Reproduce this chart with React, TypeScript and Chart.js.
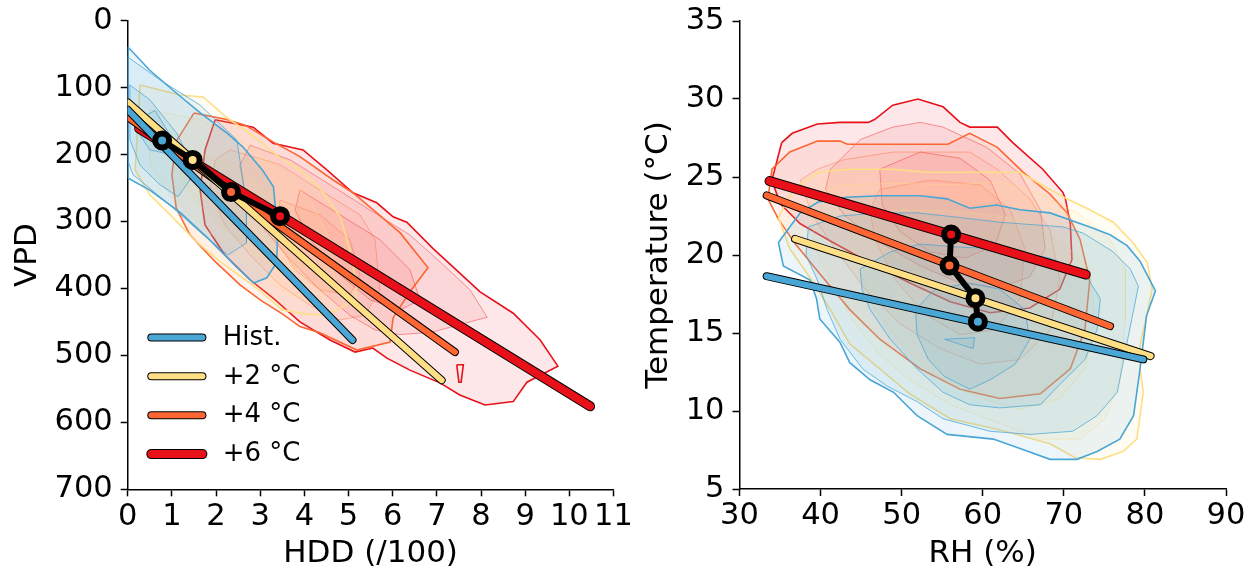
import React, { useEffect, useRef } from "react";
import { Chart, registerables } from "chart.js";

Chart.register(...registerables);

type Pt = [number, number];

const FONT = "DejaVu Sans";

// ---------- series ----------
const seriesNames = ["Hist.", "+2 °C", "+4 °C", "+6 °C"];
const seriesColors = ["#4aa6d4", "#fedf85", "#fd6532", "#e8111a"];
const seriesRGB = ["74,166,212", "254,223,133", "253,101,50", "232,17,26"];
const lineWidths = [6, 6, 6, 8];
const fillAlphaOuter = [0.11, 0.1, 0.09, 0.1];
const fillAlphaInner = [0.11, 0.09, 0.07, 0.07];
const innerLineAlpha = [0.75, 0.4, 0.4, 0.4];

// ---------- tick labels ----------
const hddTicks = [0, 1, 2, 3, 4, 5, 6, 7, 8, 9, 10, 11];
const vpdTicks = [0, 100, 200, 300, 400, 500, 600, 700];
const rhTicks = [30, 40, 50, 60, 70, 80, 90];
const tempTicks = [5, 10, 15, 20, 25, 30, 35];

// ---------- left panel: HDD vs VPD ----------
const hddLineStart: Pt[] = [[0, 133], [0, 122], [0, 144], [0.26, 161]];
const hddLineEnd: Pt[] = [[5.09, 477], [7.11, 537], [7.41, 495], [10.47, 576]];
const hddMeanX = [0.78, 1.47, 2.34, 3.45];
const vpdMeanY = [179, 208, 256, 292];

const hddHistOuter: Pt[] = [[0, 39], [0.5, 74], [1.1, 108], [1.65, 138], [2.25, 168], [2.6, 188], [3.05, 223], [3.3, 248], [3.4, 317], [3.37, 362], [3.15, 384], [2.85, 392], [2.45, 367], [1.85, 327], [1.2, 287], [0.5, 253], [0, 235]];
const hddHistMid: Pt[] = [[0, 54], [0.72, 88], [1.64, 126], [2.47, 178], [2.68, 268], [2.69, 332], [2.27, 350], [1.64, 316], [0.88, 271], [0.12, 230], [0, 208]];
const hddHistInner: Pt[] = [[0.05, 96], [0.5, 118], [1.11, 168], [1.41, 208], [1.41, 238], [1.14, 263], [0.73, 245], [0.28, 216], [0.05, 178]];
const hddHistCore: Pt[] = [[0.28, 146], [0.62, 134], [0.96, 171], [0.85, 198], [0.5, 193], [0.28, 171]];

const hddP2Outer: Pt[] = [[0.28, 96], [1.18, 111], [1.71, 114], [2.25, 145], [2.88, 174], [3.45, 205], [3.9, 223], [4.35, 250], [4.81, 293], [5.03, 342], [5.19, 395], [5.15, 417], [4.74, 432], [4.42, 440], [3.97, 438], [3.5, 432], [2.97, 402], [2.66, 387], [2.09, 360], [1.52, 328], [0.96, 290], [0.5, 260], [0.17, 223]];
const hddP2Mid: Pt[] = [[0.5, 133], [1.64, 148], [2.54, 178], [3.45, 223], [4.13, 268], [4.58, 327], [4.69, 387], [4.35, 417], [3.68, 410], [3.0, 380], [2.32, 342], [1.64, 305], [0.96, 260], [0.5, 215]];
const hddP2Inner: Pt[] = [[1.41, 193], [2.32, 215], [3.22, 260], [3.9, 313], [4.02, 365], [3.56, 380], [2.88, 350], [2.2, 313], [1.52, 268], [1.18, 230]];

const hddP4Outer: Pt[] = [[1.5, 138], [2.2, 147], [2.66, 156], [3.29, 181], [3.9, 203], [4.65, 238], [5.1, 257], [5.64, 287], [6.17, 317], [6.8, 369], [6.39, 405], [6.01, 444], [5.94, 480], [5.19, 492], [4.35, 466], [3.9, 457], [3.5, 438], [3.0, 417], [2.55, 395], [1.98, 360], [1.41, 320], [1.1, 280], [1.0, 230], [1.1, 180]];
const hddP4Mid: Pt[] = [[2.32, 193], [3.45, 215], [4.35, 253], [5.26, 290], [5.6, 327], [5.71, 402], [5.37, 440], [4.81, 447], [4.13, 425], [3.45, 395], [2.77, 350], [2.2, 305], [1.86, 253], [1.98, 208]];
const hddP4Inner: Pt[] = [[3.45, 268], [4.35, 290], [5.03, 327], [5.26, 380], [5.03, 410], [4.35, 402], [3.79, 372], [3.34, 327]];

const hddP6Outer: Pt[] = [[1.98, 148], [2.84, 159], [3.29, 183], [3.97, 193], [4.51, 223], [5.1, 257], [5.64, 272], [6.01, 293], [6.32, 301], [6.91, 340], [7.98, 405], [8.73, 437], [9.34, 477], [9.74, 516], [9.04, 540], [8.73, 569], [8.09, 574], [7.52, 559], [7.07, 541], [6.39, 522], [5.87, 504], [5.55, 489], [5.15, 495], [4.58, 477], [3.9, 450], [3.34, 417], [2.77, 387], [2.2, 350], [1.75, 305], [1.64, 253], [1.75, 193]];
const hddP6Mid: Pt[] = [[2.77, 186], [3.68, 208], [4.58, 245], [5.49, 283], [6.39, 320], [7.07, 360], [7.75, 402], [8.14, 443], [7.46, 455], [6.91, 465], [6.17, 469], [5.6, 462], [5.03, 440], [4.35, 402], [3.68, 357], [3.11, 313], [2.66, 260], [2.54, 216]];
const hddP6Inner: Pt[] = [[3.9, 253], [4.81, 290], [5.71, 327], [6.39, 372], [6.62, 417], [6.17, 432], [5.49, 417], [4.81, 380], [4.13, 327], [3.79, 283]];
const hddP6Drop: Pt[] = [[7.45, 514], [7.6, 514], [7.55, 540], [7.5, 540]];

// ---------- right panel: RH vs Temperature ----------
const rhLineStart: Pt[] = [[33.35, 18.64], [36.85, 21.03], [33.35, 23.82], [33.7, 24.74]];
const rhLineEnd: Pt[] = [[79.8, 13.31], [80.7, 13.52], [75.7, 15.44], [72.7, 18.75]];
const rhMeanX = [59.4, 59.1, 55.9, 56.1];
const tempMeanY = [15.72, 17.23, 19.33, 21.31];

const rhHistOuter: Pt[] = [[34.8, 20.8], [36.2, 21.8], [37.5, 22.7], [39.7, 23.4], [43.2, 23.7], [47.3, 23.8], [52.3, 23.8], [55.6, 23.6], [58.4, 23.0], [61.7, 23.2], [64.6, 22.9], [68.3, 22.7], [73.2, 21.8], [75.7, 21.3], [77.8, 20.6], [79.4, 19.6], [80.4, 18.6], [81.3, 17.7], [80.2, 16.1], [79.4, 12.7], [78.6, 9.7], [76.9, 8.2], [74.1, 7.4], [71.6, 6.9], [68.3, 6.9], [64.6, 7.6], [61.3, 8.2], [55.6, 8.5], [51.9, 9.7], [49.0, 11.2], [46.1, 12.0], [43.6, 13.1], [42.4, 14.4], [39.9, 15.9], [39.5, 17.2], [38.7, 18.4], [35.4, 19.3]];
const rhHistMid1: Pt[] = [[38.5, 21.8], [42.4, 22.5], [47.3, 22.7], [51.9, 22.7], [57.2, 22.4], [62.1, 22.1], [69.9, 21.8], [72.4, 21.4], [76.1, 20.2], [78.2, 19.1], [79.2, 18.0], [77.8, 14.4], [76.6, 11.2], [74.1, 9.7], [71.1, 8.7], [65.8, 8.5], [60.9, 8.7], [55.1, 9.5], [51.9, 10.6], [48.2, 11.6], [45.2, 12.7], [42.4, 14.6], [40.8, 16.5], [39.6, 18.4], [38.2, 20.0]];
const rhHistMid2: Pt[] = [[44.9, 19.1], [48.6, 20.2], [52.3, 20.7], [57.2, 20.5], [62.1, 20.4], [68.3, 19.8], [72.6, 18.8], [74.5, 17.2], [74.1, 15.2], [72.6, 13.3], [69.5, 11.7], [67.1, 10.4], [62.1, 10.2], [58.4, 10.4], [55.1, 11.2], [51.9, 12.7], [48.6, 14.6], [46.1, 16.5], [45.1, 17.8]];
const rhHistInner: Pt[] = [[51.7, 16.5], [54.1, 17.8], [58.4, 18.2], [62.1, 17.8], [65.2, 16.5], [65.8, 14.6], [64.0, 13.0], [60.9, 12.0], [58.4, 11.4], [55.3, 12.2], [53.3, 13.3], [51.9, 14.9]];
const rhHistCore: Pt[] = [[55.3, 14.6], [59.0, 14.7], [58.8, 14.0]];

const rhP2Outer: Pt[] = [[34.8, 22.4], [36.6, 24.2], [39.7, 25.3], [43.3, 25.5], [48.6, 25.5], [53.5, 25.3], [59.7, 25.3], [64.6, 25.3], [68.3, 24.2], [70.4, 23.6], [73.2, 22.9], [76.1, 22.1], [78.5, 20.8], [80.3, 19.5], [80.9, 17.8], [79.4, 14.2], [79.4, 12.7], [79.8, 11.2], [79.0, 8.2], [77.3, 7.4], [74.5, 6.9], [71.4, 7.0], [68.3, 7.9], [62.1, 8.8], [56.0, 9.5], [51.0, 11.1], [47.3, 12.7], [43.6, 14.3], [41.2, 16.5], [38.9, 18.4], [36.2, 20.4]];
const rhP2Mid: Pt[] = [[38.7, 23.6], [42.4, 24.5], [49.8, 24.6], [56.0, 24.5], [62.1, 24.7], [67.1, 23.9], [72.0, 22.6], [75.7, 21.0], [77.6, 19.1], [77.6, 15.9], [76.9, 12.0], [75.1, 9.5], [72.0, 8.2], [67.1, 8.2], [62.1, 9.2], [56.0, 10.4], [51.0, 12.0], [47.3, 13.6], [44.2, 15.6], [41.8, 17.8], [39.3, 20.4]];
const rhP2Inner: Pt[] = [[43.6, 22.3], [49.8, 22.9], [57.2, 22.8], [64.6, 22.3], [69.5, 21.0], [73.2, 19.1], [73.9, 15.9], [72.6, 12.7], [69.5, 10.8], [64.6, 10.1], [59.7, 10.8], [54.7, 12.0], [50.4, 14.0], [46.7, 16.5], [44.6, 19.1], [43.6, 21.0]];

const rhP4Outer: Pt[] = [[33.5, 23.6], [34.0, 25.5], [36.2, 26.6], [39.6, 27.3], [42.4, 27.3], [43.3, 27.1], [49.8, 27.1], [55.7, 27.1], [58.4, 27.8], [61.8, 26.9], [65.0, 25.3], [68.3, 23.9], [70.4, 22.7], [72.0, 21.0], [73.2, 18.4], [72.6, 15.2], [70.8, 12.7], [67.1, 11.1], [62.1, 10.8], [57.2, 11.4], [52.3, 12.7], [47.3, 14.6], [43.6, 16.5], [39.9, 18.8], [36.9, 20.7], [34.8, 22.3]];
const rhP4Mid: Pt[] = [[37.5, 24.8], [39.6, 25.5], [42.8, 26.1], [48.9, 26.6], [58.4, 26.6], [61.8, 25.5], [65.8, 23.6], [68.3, 21.6], [69.5, 18.4], [68.3, 15.2], [64.6, 13.3], [59.7, 13.0], [54.7, 14.0], [49.8, 15.6], [45.5, 17.8], [41.8, 20.4], [38.9, 22.6]];
const rhP4Inner: Pt[] = [[47.3, 24.2], [53.5, 24.8], [59.7, 24.5], [63.4, 22.9], [65.2, 20.4], [64.6, 17.2], [61.5, 15.2], [57.2, 14.9], [52.9, 16.2], [49.2, 18.4], [46.7, 21.0], [46.1, 22.9]];

const rhP6Outer: Pt[] = [[35.2, 27.2], [36.5, 27.8], [39.6, 28.4], [42.4, 28.5], [45.9, 28.5], [46.7, 28.7], [48.9, 29.6], [52.0, 30.0], [55.1, 29.5], [57.2, 28.5], [58.4, 28.2], [61.8, 28.2], [63.7, 27.2], [67.4, 25.5], [69.9, 24.0], [70.2, 23.6], [70.8, 22.0], [71.0, 19.7], [69.5, 17.8], [65.8, 16.6], [60.9, 16.3], [56.0, 17.0], [51.0, 18.2], [46.1, 19.5], [41.2, 20.9], [37.5, 22.0], [35.0, 23.3], [34.0, 24.8]];
const rhP6Mid: Pt[] = [[41.2, 25.5], [44.9, 27.4], [48.9, 28.2], [52.3, 28.5], [55.1, 28.2], [60.5, 26.9], [64.6, 25.2], [67.1, 22.9], [67.7, 20.4], [65.8, 18.6], [62.1, 17.9], [57.2, 18.2], [52.3, 19.3], [47.3, 20.8], [43.0, 22.5], [40.6, 24.2]];
const rhP6Inner: Pt[] = [[47.3, 25.5], [52.3, 26.6], [57.2, 26.2], [60.9, 24.8], [62.8, 22.6], [61.5, 20.6], [57.8, 19.8], [53.5, 20.2], [49.8, 21.5], [47.6, 23.2]];

// contour levels per series (outer -> inner)
const hddContours: Pt[][][] = [
  [hddHistOuter, hddHistMid, hddHistInner, hddHistCore],
  [hddP2Outer, hddP2Mid, hddP2Inner],
  [hddP4Outer, hddP4Mid, hddP4Inner],
  [hddP6Outer, hddP6Mid, hddP6Inner, hddP6Drop],
];
const rhContours: Pt[][][] = [
  [rhHistOuter, rhHistMid1, rhHistMid2, rhHistInner, rhHistCore],
  [rhP2Outer, rhP2Mid, rhP2Inner],
  [rhP4Outer, rhP4Mid, rhP4Inner],
  [rhP6Outer, rhP6Mid, rhP6Inner],
];

// ---------- dataset builders ----------
function polygonDataset(points: Pt[], si: number, level: number, isDrop = false) {
  const closed = [...points, points[0]];
  const outer = level === 0 || isDrop;
  return {
    type: "line",
    data: closed.map(([x, y]) => ({ x, y })),
    fill: isDrop ? false : "shape",
    backgroundColor: `rgba(${seriesRGB[si]},${level === 0 ? fillAlphaOuter[si] : fillAlphaInner[si]})`,
    borderColor: outer ? seriesColors[si] : `rgba(${seriesRGB[si]},${innerLineAlpha[si]})`,
    borderWidth: outer ? 1.6 : 1,
    pointRadius: 0,
    tension: 0,
  };
}

function buildDatasets(contours: Pt[][][], starts: Pt[], ends: Pt[], mx: number[], my: number[], dropLast: boolean) {
  const list: any[] = [];
  // draw order bottom -> top: red, orange, yellow, blue contours
  for (let si = 3; si >= 0; si--) {
    contours[si].forEach((poly, level) => {
      const isDrop = dropLast && si === 3 && level === contours[si].length - 1;
      list.push(polygonDataset(poly, si, level, isDrop));
    });
  }
  for (let si = 3; si >= 0; si--) {
    const seg = [starts[si], ends[si]].map(([x, y]) => ({ x, y }));
    list.push({
      type: "line", data: seg, borderColor: "#000", borderWidth: lineWidths[si] + 2,
      borderCapStyle: "round", pointRadius: 0, fill: false,
    });
    list.push({
      type: "line", data: seg, borderColor: seriesColors[si], borderWidth: lineWidths[si],
      borderCapStyle: "round", pointRadius: 0, fill: false,
    });
  }
  list.push({
    type: "line",
    data: mx.map((x, i) => ({ x, y: my[i] })),
    borderColor: "#000",
    borderWidth: 6,
    borderJoinStyle: "round",
    pointRadius: 7,
    pointBorderWidth: 6,
    pointBorderColor: "#000",
    pointBackgroundColor: seriesColors,
    fill: false,
    tension: 0,
  });
  const n = list.length;
  list.forEach((d, i) => (d.order = n - i));
  return list;
}

function axis(opts: {
  min: number; max: number; ticks: number[]; title: string; reverse?: boolean;
  titlePad: any; size: number; horizontal: boolean; tickPad: number;
}) {
  return {
    type: "linear",
    min: opts.min,
    max: opts.max,
    reverse: !!opts.reverse,
    afterBuildTicks: (s: any) => {
      s.ticks = opts.ticks.map((v) => ({ value: v }));
    },
    afterFit: (s: any) => {
      if (opts.horizontal) {
        s.height = opts.size;
        s.paddingLeft = 0;
        s.paddingRight = 0;
      } else {
        s.width = opts.size;
        s.paddingTop = 0;
        s.paddingBottom = 0;
      }
    },
    ticks: {
      autoSkip: false,
      maxRotation: 0,
      minRotation: 0,
      color: "#000",
      padding: opts.tickPad,
      font: { family: FONT, size: 30.5 },
    },
    grid: {
      display: true,
      drawOnChartArea: false,
      drawTicks: true,
      tickLength: 7,
      tickWidth: 1.5,
      tickColor: "#000",
    },
    border: { display: true, color: "#000", width: 1.5 },
    title: {
      display: true,
      text: opts.title,
      color: "#000",
      font: { family: FONT, size: 31 },
      padding: opts.titlePad,
    },
  };
}

const legendPlugin = {
  id: "inlineLegend",
  afterDraw(chart: any) {
    const { ctx, chartArea } = chart;
    ctx.save();
    seriesNames.forEach((name: string, i: number) => {
      const y = chartArea.top + 316.7 + i * 38.9;
      const x0 = chartArea.left + 23.6;
      const x1 = chartArea.left + 74.7;
      ctx.lineCap = "round";
      ctx.strokeStyle = "#000";
      ctx.lineWidth = lineWidths[i] + 2;
      ctx.beginPath();
      ctx.moveTo(x0, y);
      ctx.lineTo(x1, y);
      ctx.stroke();
      ctx.strokeStyle = seriesColors[i];
      ctx.lineWidth = lineWidths[i];
      ctx.beginPath();
      ctx.moveTo(x0, y);
      ctx.lineTo(x1, y);
      ctx.stroke();
      ctx.fillStyle = "#000";
      ctx.font = `26px "${FONT}"`;
      ctx.textAlign = "left";
      ctx.textBaseline = "middle";
      ctx.fillText(name, chartArea.left + 95, y + 0.5);
    });
    ctx.restore();
  },
};

export default function App() {
  const leftRef = useRef<HTMLCanvasElement>(null);
  const rightRef = useRef<HTMLCanvasElement>(null);

  useEffect(() => {
    const common = {
      responsive: false,
      animation: false,
      events: [] as any[],
      plugins: { legend: { display: false }, tooltip: { enabled: false } },
    };
    const left = new Chart(leftRef.current as HTMLCanvasElement, {
      type: "line",
      data: { datasets: buildDatasets(hddContours, hddLineStart, hddLineEnd, hddMeanX, vpdMeanY, true) },
      options: {
        ...common,
        layout: { padding: { left: 0, top: 20.7, right: 16.5, bottom: 0 } },
        scales: {
          x: axis({ min: 0, max: 11, ticks: hddTicks, title: "HDD (/100)", titlePad: { top: 0, bottom: 3.4 }, size: 86.7, horizontal: true, tickPad: 2 }),
          y: axis({ min: 0, max: 700, ticks: vpdTicks, title: "VPD", reverse: true, titlePad: { top: 8.9, bottom: 0 }, size: 127.7, horizontal: false, tickPad: 8 }),
        },
      } as any,
      plugins: [legendPlugin],
    } as any);
    const right = new Chart(rightRef.current as HTMLCanvasElement, {
      type: "line",
      data: { datasets: buildDatasets(rhContours, rhLineStart, rhLineEnd, rhMeanX, tempMeanY, false) },
      options: {
        ...common,
        layout: { padding: { left: 0, top: 21, right: 31, bottom: 0 } },
        scales: {
          x: axis({ min: 30, max: 90, ticks: rhTicks, title: "RH (%)", titlePad: { top: 0, bottom: 3.4 }, size: 87, horizontal: true, tickPad: 2 }),
          y: axis({ min: 5, max: 35, ticks: tempTicks, title: "Temperature (°C)", titlePad: { top: 10.5, bottom: 0 }, size: 109.5, horizontal: false, tickPad: 8 }),
        },
      } as any,
    } as any);
    return () => {
      left.destroy();
      right.destroy();
    };
  }, []);

  return (
    <div style={{ position: "absolute", left: 0, top: 0, width: 1257, height: 576, background: "#fff" }}>
      <canvas ref={leftRef} width={630} height={576} style={{ position: "absolute", left: 0, top: 0 }} />
      <canvas ref={rightRef} width={627} height={576} style={{ position: "absolute", left: 630, top: 0 }} />
    </div>
  );
}
